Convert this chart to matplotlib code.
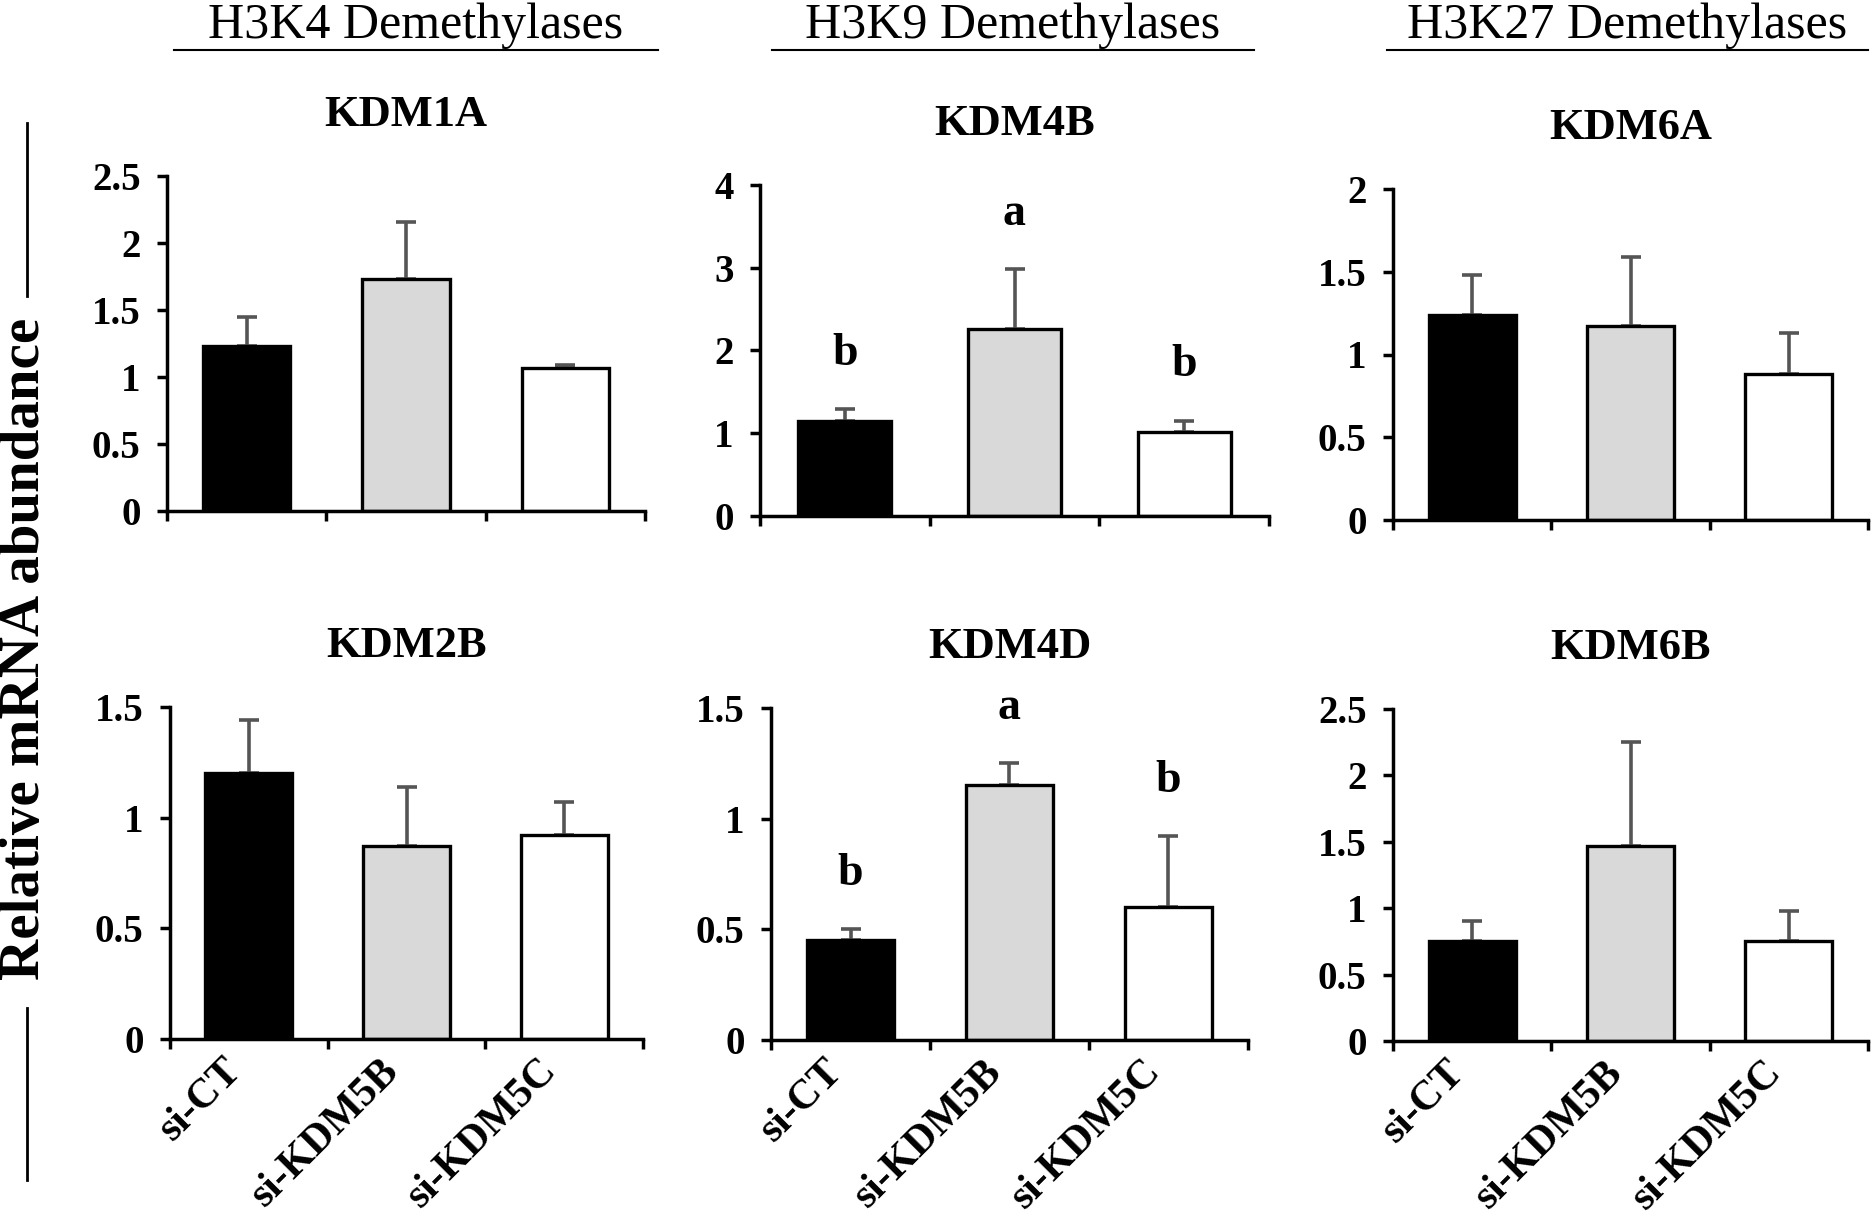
import numpy as np
import matplotlib
matplotlib.use('Agg')
import matplotlib.pyplot as plt
from matplotlib.lines import Line2D
from matplotlib.ticker import FuncFormatter

plt.rcParams['font.family'] = ['Liberation Serif', 'DejaVu Serif']

# DATOS
grupos = ['si-CT', 'si-KDM5B', 'si-KDM5C']
genes = ['KDM1A', 'KDM4B', 'KDM6A', 'KDM2B', 'KDM4D', 'KDM6B']
familias = ['H3K4 Demethylases', 'H3K9 Demethylases', 'H3K27 Demethylases']

kdm1a = [1.23, 1.73, 1.07]
kdm1a_se = [0.22, 0.43, 0.02]
kdm4b = [1.15, 2.26, 1.01]
kdm4b_se = [0.14, 0.72, 0.14]
kdm6a = [1.24, 1.17, 0.88]
kdm6a_se = [0.24, 0.42, 0.25]
kdm2b = [1.20, 0.87, 0.92]
kdm2b_se = [0.24, 0.27, 0.15]
kdm4d = [0.45, 1.15, 0.60]
kdm4d_se = [0.05, 0.10, 0.32]
kdm6b = [0.75, 1.47, 0.75]
kdm6b_se = [0.15, 0.78, 0.23]

letras_kdm4b = ['b', 'a', 'b']
letras_kdm4d = ['b', 'a', 'b']

ymax = [2.5, 4, 2, 1.5, 1.5, 2.5]
ypaso = [0.5, 1, 0.5, 0.5, 0.5, 0.5]

medias = [kdm1a, kdm4b, kdm6a, kdm2b, kdm4d, kdm6b]
errores = [kdm1a_se, kdm4b_se, kdm6a_se, kdm2b_se, kdm4d_se, kdm6b_se]
letras = [None, letras_kdm4b, None, None, letras_kdm4d, None]

colores = ['black', '#d9d9d9', 'white']

# FIGURA
W, H = 1873, 1227
fig = plt.figure(figsize=(W / 100, H / 100), dpi=100)


def rect(x0, y0, x1, y1):
    return [x0 / W, 1 - y1 / H, (x1 - x0) / W, (y1 - y0) / H]


cajas = [(167, 176, 645, 511), (760, 185, 1269, 516), (1393, 189, 1868, 520),
         (170, 707, 643, 1039), (771, 708, 1248, 1040), (1393, 709, 1868, 1041)]

x = np.arange(len(grupos))
for k in range(6):
    ax = fig.add_axes(rect(*cajas[k]))
    m = np.array(medias[k])
    e = np.array(errores[k])
    ax.errorbar(x, m, yerr=[np.zeros_like(e), e], fmt='none',
                ecolor='#555555', elinewidth=2.6, capsize=7, capthick=2.6,
                zorder=1)
    ax.bar(x, m, width=0.55, color=colores, edgecolor='black',
           linewidth=2.4, zorder=2)
    if letras[k] is not None:
        for i in range(len(grupos)):
            ax.annotate(letras[k][i], (x[i], m[i] + e[i]), xytext=(0, 40),
                        textcoords='offset points', ha='center', va='center',
                        fontsize=33, fontweight='bold')
    ax.set_xlim(-0.5, 2.5)
    ax.set_ylim(0, ymax[k])
    ax.set_yticks(np.arange(0, ymax[k] + 1e-9, ypaso[k]))
    ax.yaxis.set_major_formatter(FuncFormatter(lambda v, p: '%g' % v))
    ax.set_xticks([-0.5, 0.5, 1.5, 2.5])
    ax.set_xticklabels([])
    ax.set_xticks(x, minor=True)
    if k >= 3:
        ax.set_xticklabels(grupos, minor=True, rotation=45, ha='right',
                           va='top', fontsize=30, fontweight='bold')
    ax.tick_params(axis='x', which='minor', length=0, pad=9)
    ax.tick_params(axis='both', which='major', direction='out', length=7,
                   width=2.5, labelsize=28)
    for t in ax.get_yticklabels():
        t.set_fontweight('bold')
    ax.tick_params(axis='y', pad=12)
    for s in ['top', 'right']:
        ax.spines[s].set_visible(False)
    for s in ['left', 'bottom']:
        ax.spines[s].set_linewidth(2.5)
    ax.set_title(genes[k], fontsize=32, fontweight='bold', pad=36)

# titulos de familias con subrayado
lineas = [(174, 658), (772, 1254), (1387, 1868)]
for f, (a, b) in zip(familias, lineas):
    fig.text((a + b) / 2 / W, 1 - 38 / H, f, ha='center', va='baseline',
             fontsize=36)
    fig.add_artist(Line2D([a / W, b / W], [1 - 50 / H, 1 - 50 / H],
                          color='black', linewidth=1.5))

# etiqueta del eje y con lineas
fig.text(25 / W, 1 - 649 / H, 'Relative mRNA abundance', rotation=90,
         ha='center', va='center', fontsize=41, fontweight='bold')
for y0, y1 in [(123, 296), (1008, 1180)]:
    fig.add_artist(Line2D([27 / W, 27 / W], [1 - y0 / H, 1 - y1 / H],
                          color='black', linewidth=2))

fig.savefig('out.png', dpi=100)
